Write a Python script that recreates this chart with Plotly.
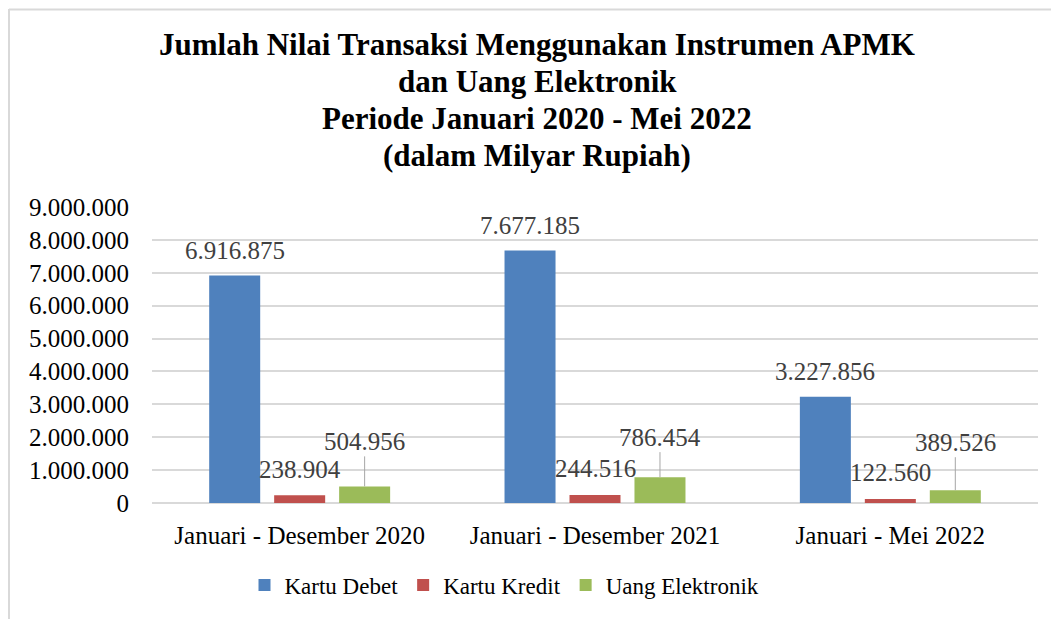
import plotly.graph_objects as go

categories = ["Januari - Desember 2020", "Januari - Desember 2021", "Januari - Mei 2022"]
kartu_debet = [6916875, 7677185, 3227856]
kartu_kredit = [238904, 244516, 122560]
uang_elektronik = [504956, 786454, 389526]
series_names = ["Kartu Debet", "Kartu Kredit", "Uang Elektronik"]
y_ticks = [0, 1000000, 2000000, 3000000, 4000000, 5000000, 6000000, 7000000, 8000000, 9000000]
title_lines = ["Jumlah Nilai Transaksi Menggunakan Instrumen APMK", "dan Uang Elektronik",
               "Periode Januari 2020 - Mei 2022", "(dalam Milyar Rupiah)"]

colors = ["#4f81bd", "#c0504d", "#9bbb59"]
OFF = 8                      # page body margin of the written html
PAGE_W, PAGE_H = 1059, 619
W, H = PAGE_W - OFF, PAGE_H - OFF
PLOT_L, PLOT_R, PLOT_T, PLOT_B = 152, 1038, 207, 503   # page pixels
ML, MR, MT, MB = PLOT_L - OFF, PAGE_W - PLOT_R, PLOT_T - OFF, PAGE_H - PLOT_B
BARGAP = 0.34
BARGROUPGAP = 0.215
SERIF = "Liberation Serif"
LABEL_SHIFT = [25, 26]
LEADER_AY = [-45, -40, -48]
TITLE_X = 537
TITLE_Y = [45, 82, 118.5, 155]


def fmt(v):
    return f"{v:,}".replace(",", ".")


series = [kartu_debet, kartu_kredit, uang_elektronik]
fig = go.Figure()
for name, vals, col in zip(series_names, series, colors):
    fig.add_trace(go.Bar(x=categories, y=vals, name=name, marker=dict(color=col, line=dict(width=0)),
                         hoverinfo="skip"))

pw = PLOT_R - PLOT_L
ph = PLOT_B - PLOT_T


def px_x(p):
    return (p - PLOT_L) / pw


def px_y(p):
    return (PLOT_B - p) / ph


slot = (1 - BARGAP) / 3
annotations = []
for k, vals in enumerate(series):
    off = (k - 1) * slot
    for i, v in enumerate(vals):
        if k < 2:
            annotations.append(dict(x=i + off, y=v, xref="x", yref="y", text=fmt(v), showarrow=False,
                                    yanchor="middle", xanchor="center", yshift=LABEL_SHIFT[k],
                                    font=dict(family=SERIF, size=25, color="#404040")))
        else:
            annotations.append(dict(x=i + off, y=v, xref="x", yref="y", text=fmt(v), showarrow=True,
                                    arrowhead=0, arrowwidth=1, arrowcolor="#a6a6a6", ax=0,
                                    ay=LEADER_AY[i], standoff=0,
                                    font=dict(family=SERIF, size=25, color="#404040")))

for line, ty in zip(title_lines, TITLE_Y):
    annotations.append(dict(x=px_x(TITLE_X), y=px_y(ty), xref="paper", yref="paper", text=f"<b>{line}</b>",
                            showarrow=False, xanchor="center", yanchor="middle",
                            font=dict(family=SERIF, size=31, color="black")))

shapes = [
    dict(type="line", xref="paper", yref="paper", x0=px_x(9), x1=px_x(9), y0=px_y(OFF + 1), y1=px_y(PAGE_H + 5),
         line=dict(color="#d9d9d9", width=2)),
    dict(type="line", xref="paper", yref="paper", x0=px_x(9), x1=px_x(PAGE_W + 5), y0=px_y(OFF + 1.5),
         y1=px_y(OFF + 1.5), line=dict(color="#d9d9d9", width=2)),
]

fig.update_layout(
    width=W, height=H, autosize=False,
    margin=dict(l=ML, r=MR, t=MT, b=MB, pad=0),
    paper_bgcolor="white", plot_bgcolor="white",
    font=dict(family=SERIF, color="black"),
    separators=",.",
    barmode="group", bargap=BARGAP, bargroupgap=BARGROUPGAP,
    xaxis=dict(showgrid=False, showline=False, ticks="", ticklabelstandoff=15,
               tickfont=dict(family=SERIF, size=25, color="black")),
    yaxis=dict(range=[0, 9000000], tickvals=y_ticks, tickformat=",.0f",
               showgrid=True, gridcolor="#d9d9d9", gridwidth=1.5,
               zeroline=True, zerolinecolor="#d9d9d9", zerolinewidth=1.5,
               showline=False, ticks="", ticklabelstandoff=22,
               tickfont=dict(family=SERIF, size=25, color="black")),
    legend=dict(orientation="h", x=px_x(504.5), xanchor="center", y=px_y(585), yanchor="middle",
                font=dict(family=SERIF, size=23, color="black"), itemclick=False,
                itemwidth=30, tracegroupgap=0),
    annotations=annotations,
    shapes=shapes,
)

fig.write_html("out.html")
